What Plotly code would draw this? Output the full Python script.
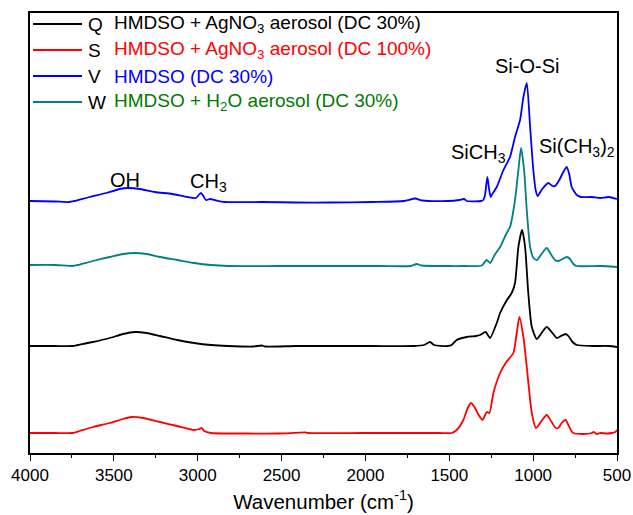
import plotly.graph_objects as go

# ---------------- data (wavenumber, offset absorbance in arbitrary units) ----------------
wn_S = [4000, 3850, 3745, 3705, 3625, 3525, 3445, 3395, 3325, 3225, 3122, 3021, 2991, 2976, 2961, 2921,
        2718, 2517, 2355, 2345, 2013, 1711, 1559, 1486, 1456, 1416, 1390, 1370, 1350, 1325, 1301, 1277,
        1261, 1237, 1197, 1160, 1118, 1098, 1082, 1058, 1038, 1008, 983, 950, 919, 890, 865, 850, 830,
        806, 790, 772, 760, 700, 650, 640, 620, 600, 560, 530, 510, 500]
y_S = [19, 19, 19, 21, 25, 29, 33, 35, 34, 30, 26, 22, 23, 24, 21, 19,
       18.5, 18.5, 19.5, 19, 19, 19, 19, 19, 22, 32, 44, 49, 45, 37, 32, 40,
       39, 59, 79, 90, 99, 119, 135, 115, 85, 39, 24, 31, 37, 30, 24, 24, 29,
       32, 27, 21, 19, 18, 19, 20, 18, 19, 18.5, 19, 20, 22]

wn_Q = [4000, 3850, 3745, 3715, 3625, 3525, 3445, 3375, 3305, 3225, 3122, 3021, 2921, 2820, 2668, 2618,
        2598, 2415, 2213, 1960, 1710, 1650, 1615, 1590, 1510, 1486, 1456, 1396, 1340, 1317, 1283, 1257,
        1217, 1197, 1160, 1128, 1108, 1088, 1066, 1048, 1029, 1008, 978, 950, 919, 885, 859, 835, 806,
        790, 765, 740, 650, 550, 500]
y_Q = [106, 106, 106, 107, 110, 114, 118, 120, 119, 116, 112, 109, 107, 106, 105.5, 106.5,
       105.5, 106, 106, 106, 106, 107, 110, 107, 106, 107, 112, 115, 116, 117, 120, 114,
       129, 139, 151, 159, 169, 205, 222, 205, 159, 125, 113, 119, 125, 119, 114, 116, 118,
       116, 110, 107, 106, 106, 105]

wn_W = [4000, 3850, 3745, 3715, 3625, 3525, 3445, 3375, 3305, 3225, 3122, 3021, 2921, 2820, 2517, 2213,
        1912, 1730, 1694, 1665, 1510, 1410, 1306, 1277, 1257, 1230, 1197, 1158, 1138, 1108, 1088, 1072,
        1054, 1038, 1018, 998, 978, 950, 919, 895, 870, 850, 825, 800, 780, 760, 740, 600, 500]
y_W = [187, 187, 186, 187, 191, 195, 198, 199, 198, 195, 192, 189, 187, 186, 186, 186,
       186, 186, 188, 186.5, 186, 186, 186.5, 192, 189, 197, 205, 219, 225, 252, 282, 304,
       282, 242, 205, 194, 192, 198, 204, 198, 192, 191, 193, 195, 193, 188, 186, 186, 185]

wn_V = [4000, 3850, 3765, 3735, 3645, 3545, 3465, 3415, 3345, 3255, 3152, 3061, 3011, 2981, 2966, 2951,
        2926, 2900, 2840, 2617, 2415, 2213, 1960, 1770, 1704, 1660, 1510, 1440, 1412, 1395, 1310, 1297,
        1287, 1273, 1262, 1253, 1247, 1217, 1177, 1138, 1108, 1078, 1058, 1038, 1018, 999, 985, 973,
        950, 925, 909, 885, 869, 844, 820, 800, 785, 770, 740, 715, 650, 600, 550, 500]
y_V = [251, 250.5, 250, 251, 255, 259, 263, 264, 263, 260, 258, 255, 254, 259, 256, 252,
       253, 252, 250, 250, 249.5, 249.5, 250, 251, 253.5, 251.5, 251, 252, 253, 251, 251, 252,
       257, 275, 262, 255, 257, 265, 282, 295, 315, 332, 355, 369, 325, 282, 262, 256,
       262, 267, 269, 266, 266, 272, 280, 285, 278, 265, 257, 255, 255, 254, 255, 253]

series = [
    ("Q", wn_Q, y_Q, "#000000"),
    ("S", wn_S, y_S, "#ff0000"),
    ("V", wn_V, y_V, "#0000ff"),
    ("W", wn_W, y_W, "#008080"),
]
legend_labels = ["HMDSO + AgNO<sub>3</sub> aerosol (DC 30%)",
                 "HMDSO + AgNO<sub>3</sub> aerosol (DC 100%)",
                 "HMDSO (DC 30%)",
                 "HMDSO + H<sub>2</sub>O aerosol (DC 30%)"]
legend_text_colors = ["#000000", "#ff0000", "#0000ff", "#007a00"]

band_labels = ["OH", "CH<sub>3</sub>", "SiCH<sub>3</sub>", "Si-O-Si", "Si(CH<sub>3</sub>)<sub>2</sub>"]
band_x = [3434, 3058, 1501, 1036, 977]
band_y = [272, 270, 299, 386, 305]
band_anchor = ["center", "left", "left", "center", "left"]

tick_vals = [4000, 3500, 3000, 2500, 2000, 1500, 1000, 500]

FONT = "Arial, 'Liberation Sans', sans-serif"

fig = go.Figure()
for name, x, y, c in series:
    fig.add_trace(go.Scatter(x=x, y=y, mode="lines", name=name,
                             line=dict(color=c, width=1.8, shape="spline", smoothing=0.6),
                             showlegend=False, hoverinfo="skip"))

# plot area in pixels
L, R, T, B = 30, 617, 13, 453
W_, H_ = 633, 515
def px(xp):
    return (xp - L) / (R - L)
def py(yp):
    return (B - yp) / (B - T)

shapes = []
annotations = []
legend_rows = [24, 50, 76, 102]
for i, (name, x, y, c) in enumerate(series):
    yy = py(legend_rows[i])
    shapes.append(dict(type="line", xref="paper", yref="paper", x0=px(33), x1=px(82), y0=yy, y1=yy,
                       line=dict(color=c, width=1.8)))
    annotations.append(dict(xref="paper", yref="paper", x=px(86), y=yy, text=name, showarrow=False,
                            xanchor="left", yanchor="middle", font=dict(family=FONT, size=19, color="#000000")))
    annotations.append(dict(xref="paper", yref="paper", x=px(112), y=yy, text=legend_labels[i], showarrow=False,
                            xanchor="left", yanchor="middle",
                            font=dict(family=FONT, size=19, color=legend_text_colors[i])))

for t, bx, by, anc in zip(band_labels, band_x, band_y, band_anchor):
    annotations.append(dict(xref="x", yref="y", x=bx, y=by, text=t, showarrow=False,
                            xanchor=anc, yanchor="middle", font=dict(family=FONT, size=20, color="#000000")))

fig.update_layout(
    width=W_, height=H_,
    margin=dict(l=L, r=W_ - R, t=T, b=H_ - B, autoexpand=False),
    paper_bgcolor="white", plot_bgcolor="white",
    shapes=shapes, annotations=annotations,
    font=dict(family=FONT, color="#000000"),
    xaxis=dict(range=[4000, 500], tickvals=tick_vals, ticktext=[str(v) for v in tick_vals],
               ticks="outside", ticklen=6, tickwidth=1.3, tickcolor="black", automargin=False,
               minor=dict(dtick=250, ticks="outside", ticklen=3, tickwidth=1.3, tickcolor="black", showgrid=False),
               showgrid=False, zeroline=False, showline=True, linecolor="black", linewidth=1.6, mirror=True,
               tickfont=dict(family=FONT, size=17, color="black"),
               title=dict(text="Wavenumber (cm<sup>-1</sup>)", font=dict(family=FONT, size=20.5, color="black"),
                          standoff=10)),
    yaxis=dict(range=[-1, 439], showticklabels=False, ticks="", showgrid=False, zeroline=False, automargin=False,
               showline=True, linecolor="black", linewidth=1.6, mirror=True),
)

fig.write_html("out.html")
